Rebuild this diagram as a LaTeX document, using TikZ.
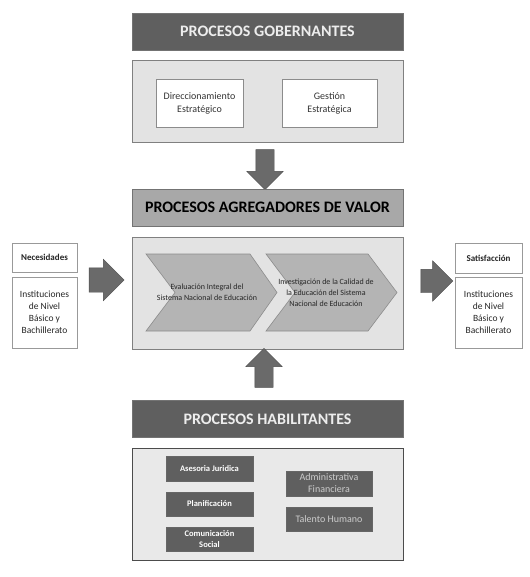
\documentclass[tikz,border=0pt]{standalone}
\usepackage{fontspec}
\setmainfont{Carlito}
\usetikzlibrary{shapes.arrows}

\definecolor{headdark}{HTML}{5F5F5F}
\definecolor{headmid}{HTML}{A8A8A8}
\definecolor{panelgray}{HTML}{E3E3E3}
\definecolor{chevfill}{HTML}{B4B4B4}
\definecolor{arrowgray}{HTML}{6A6A6A}

\tikzset{
  headbar/.style={shape=rectangle, draw=black!55, line width=0.8pt, inner sep=0pt, minimum width=271pt, minimum height=37pt, font=\fontsize{16}{19}\selectfont\bfseries},
  darkhead/.style={headbar, fill=headdark, text=white!93!black},
  midhead/.style={headbar, fill=headmid, text=black},
  panelbox/.style={shape=rectangle, draw=black!50, line width=0.8pt, fill=panelgray, inner sep=0pt, minimum width=271pt},
  whitebox/.style={shape=rectangle, draw=black!45, line width=0.8pt, fill=white, inner sep=0pt, align=center, font=\fontsize{10}{13}\selectfont, text=black!80},
  sidebox/.style={shape=rectangle, draw=black!40, line width=0.6pt, fill=white, inner sep=0pt, align=center, minimum width=65pt, text=black!85},
  chev/.style={draw=black!45, line width=0.6pt, fill=chevfill},
  chevtext/.style={align=center, inner sep=0pt, text=black!85, font=\fontsize{8}{11}\selectfont},
  blockarrow/.style={single arrow, draw=black!70, fill=arrowgray, inner xsep=0pt},
  darkbox/.style={shape=rectangle, draw=black!60, fill=headdark, inner sep=0pt, minimum width=87pt, align=center, text=white, font=\fontsize{8.5}{11}\selectfont\bfseries},
  greybox/.style={darkbox, text=black!20, font=\fontsize{10}{12}\selectfont},
}

\begin{document}
\begin{tikzpicture}[x=1pt, y=-1pt]
  \useasboundingbox (0,0) rectangle (529,577);
  % Gobernantes
  \node[darkhead] (gobHead) at (267.5,31.5) {PROCESOS GOBERNANTES};
  \node[panelbox, minimum height=82pt] (gobBox) at (267.5,101) {};
  \node[whitebox, minimum width=87pt, minimum height=48pt] (dirEst) at (199.5,103) {Direccionamiento\\Estratégico};
  \node[whitebox, minimum width=95pt, minimum height=48pt] (gesEst) at (329.5,103) {Gestión\\Estratégica};
  \node[blockarrow, rotate=-90, minimum height=40pt, inner ysep=9pt, single arrow head extend=9pt] (downArr) at (265,165) {};
  % Agregadores de valor
  \node[midhead] (agrHead) at (267.5,207.5) {PROCESOS AGREGADORES DE VALOR};
  \node[panelbox, minimum height=112pt] (valBox) at (267.5,293) {};
  \draw[chev] (146,254) -- (250,254) -- (277,292.5) -- (250,331) -- (146,331) -- (175,292.5) -- cycle;
  \draw[chev] (266,254) -- (368,254) -- (397,292.5) -- (368,331) -- (266,331) -- (295,292.5) -- cycle;
  \node[chevtext] (evalTxt) at (207,292) {Evaluación Integral del\\Sistema Nacional de Educación};
  \node[chevtext] (invTxt) at (326,293) {Investigación de la Calidad de\\la Educación del Sistema\\Nacional de Educación};
  % Entradas y salidas
  \node[sidebox, minimum height=29pt, font=\fontsize{9}{11}\selectfont\bfseries] (necHead) at (44.5,257.5) {Necesidades};
  \node[sidebox, minimum height=71pt, font=\fontsize{9.5}{12}\selectfont] (necBox) at (44.5,312.5) {Instituciones\\de Nivel\\Básico y\\Bachillerato};
  \node[blockarrow, minimum height=35pt, inner ysep=12pt, single arrow head extend=8.5pt] (inArr) at (100.5,280) {};
  \node[sidebox, minimum width=67pt, minimum height=30pt, font=\fontsize{9}{11}\selectfont\bfseries] (satHead) at (488.5,258) {Satisfacción};
  \node[sidebox, minimum width=67pt, minimum height=71pt, font=\fontsize{9.5}{12}\selectfont] (satBox) at (488.5,312.5) {Instituciones\\de Nivel\\Básico y\\Bachillerato};
  \node[blockarrow, minimum height=32pt, inner ysep=11.5pt, single arrow head extend=8.5pt] (outArr) at (431,281) {};
  % Habilitantes
  \node[blockarrow, rotate=90, minimum height=39pt, inner ysep=9pt, single arrow head extend=9pt] (upArr) at (264,372.5) {};
  \node[darkhead] (habHead) at (267.5,419) {PROCESOS HABILITANTES};
  \node[panelbox, minimum height=112pt, draw=black!70, fill=panelgray!80] (habBox) at (267.5,504) {};
  \node[darkbox, minimum height=25pt] (asesBox) at (209.5,468.5) {Asesoria Juridica};
  \node[darkbox, minimum height=24pt] (planBox) at (209.5,504) {Planificación};
  \node[darkbox, minimum height=24pt] (comBox) at (209.5,539) {Comunicación\\Social};
  \node[greybox, minimum width=86pt, minimum height=25pt] (admBox) at (329,483.5) {Administrativa\\Financiera};
  \node[greybox, minimum width=86pt, minimum height=24pt] (talBox) at (329,519) {Talento Humano};
\end{tikzpicture}
\end{document}
